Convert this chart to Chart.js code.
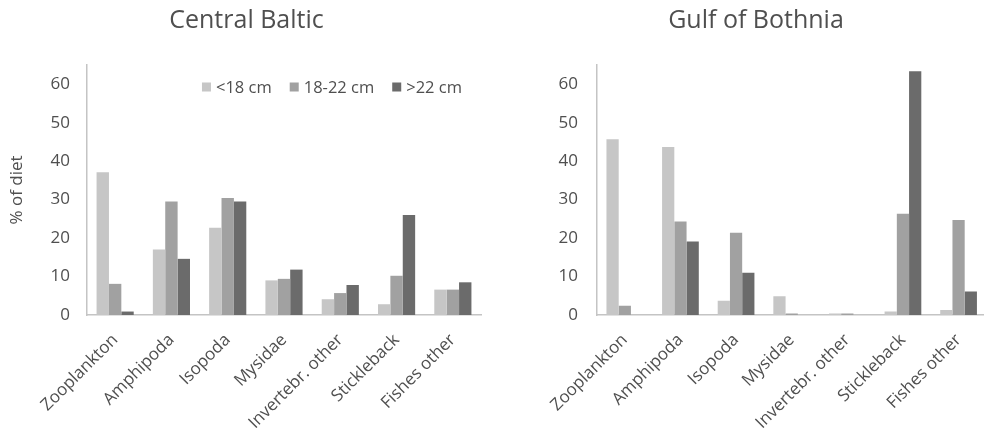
<!DOCTYPE html>
<html>
<head>
<meta charset="utf-8">
<script src="https://cdn.jsdelivr.net/npm/chart.js@4.4.1/dist/chart.umd.min.js"></script>
<style>
html, body { margin: 0; padding: 0; background: #fff; overflow: hidden; width: 984px; height: 429px; }
canvas { position: absolute; top: 0; }
#baltic { left: 0; }
#bothnia { left: 530px; }
</style>
</head>
<body>
<canvas id="baltic" width="494" height="429"></canvas>
<canvas id="bothnia" width="458" height="429"></canvas>
<script>
// prey categories and size classes
const categories = ['Zooplankton', 'Amphipoda', 'Isopoda', 'Mysidae', 'Invertebr. other', 'Stickleback', 'Fishes other'];
const sizeClasses = ['<18 cm', '18-22 cm', '>22 cm'];
const yTicks = [0, 10, 20, 30, 40, 50, 60];

// Central Baltic, % of diet
const balticSmall = [37.1, 17.0, 22.7, 9.0, 4.1, 2.8, 6.6];
const balticMedium = [8.1, 29.5, 30.4, 9.4, 5.7, 10.2, 6.6];
const balticLarge = [0.9, 14.6, 29.5, 11.8, 7.8, 26.0, 8.5];

// Gulf of Bothnia, % of diet
const bothniaSmall = [45.7, 43.7, 3.7, 4.9, 0.4, 0.9, 1.3];
const bothniaMedium = [2.4, 24.3, 21.4, 0.4, 0.4, 26.3, 24.7];
const bothniaLarge = [0, 19.1, 11.0, 0, 0, 63.4, 6.1];

const barColors = ['#c6c6c6', '#a1a1a1', '#6b6b6b'];
const textColor = '#4f4f4f';
const axisColor = '#c4c4c4';
const fontFamily = '"Open Sans", "Noto Sans", sans-serif';

// legend drawn inside the plot area, top right
const insideLegend = {
	id: 'insideLegend',
	afterDatasetsDraw(chart, args, opts){
		if(!opts.display){
			return;
		}
		const ctx = chart.ctx;
		const area = chart.chartArea;
		ctx.save();
		ctx.font = opts.size + 'px ' + fontFamily;
		ctx.textBaseline = 'middle';
		var items = chart.data.datasets.map(ds => ({
			text: ds.label,
			color: ds.backgroundColor,
			w: ctx.measureText(ds.label).width
		}));
		var total = 0;
		for(var it of items){
			total += opts.box + opts.gap + it.w;
		}
		total += opts.itemGap * (items.length - 1);
		var x = area.right - opts.right - total;
		var y = area.top + opts.top;
		for(var it of items){
			ctx.fillStyle = it.color;
			ctx.fillRect(x, y - opts.box / 2, opts.box, opts.box);
			x += opts.box + opts.gap;
			ctx.fillStyle = textColor;
			ctx.fillText(it.text, x, y + 1);
			x += it.w + opts.itemGap;
		}
		ctx.restore();
	}
};

// nudge the title sideways after layout
const titleShift = {
	id: 'titleShift',
	afterLayout(chart, args, opts){
		if(chart.titleBlock){
			chart.titleBlock.left += opts.dx;
			chart.titleBlock.right += opts.dx;
		}
	}
};

function makeDatasets(small, medium, large){
	return [small, medium, large].map((vals, i) => ({
		label: sizeClasses[i],
		data: vals,
		backgroundColor: barColors[i],
		borderWidth: 0,
		categoryPercentage: 0.66,
		barPercentage: 1.0
	}));
}

function makeChart(id, title, datasets, opts){
	return new Chart(document.getElementById(id), {
		type: 'bar',
		data: {labels: categories, datasets: datasets},
		plugins: [insideLegend, titleShift],
		options: {
			responsive: false,
			animation: false,
			layout: {padding: {left: 0, right: opts.padRight, top: 0, bottom: 0}},
			plugins: {
				legend: {display: false},
				tooltip: {enabled: false},
				title: {
					display: true,
					text: title,
					color: textColor,
					font: {family: fontFamily, size: 25, weight: 'normal'},
					padding: {top: 6, bottom: 29}
				},
				titleShift: {dx: opts.titleDx},
				insideLegend: {display: opts.legend, size: 16.5, box: 9, gap: 5, itemGap: 18, right: 19, top: 22}
			},
			scales: {
				x: {
					grid: {display: false, drawTicks: false},
					border: {display: true, color: axisColor, width: 1.5},
					ticks: {
						color: textColor,
						font: {family: fontFamily, size: 17},
						minRotation: 45,
						maxRotation: 45,
						autoSkip: false,
						padding: 15
					},
					afterFit(scale){ scale.height = 114; }
				},
				y: {
					min: 0,
					max: 65,
					grid: {display: false, drawTicks: false},
					border: {display: true, color: axisColor, width: 1.5},
					ticks: {
						color: textColor,
						font: {family: fontFamily, size: 17},
						padding: opts.tickPad
					},
					title: {
						display: opts.yTitle,
						text: '% of diet',
						color: textColor,
						font: {family: fontFamily, size: 17},
						padding: {top: 7, bottom: 0}
					},
					afterBuildTicks(scale){ scale.ticks = yTicks.map(v => ({value: v})); },
					afterFit(scale){ scale.width = opts.yWidth; }
				}
			}
		}
	});
}

makeChart('baltic', 'Central Baltic', makeDatasets(balticSmall, balticMedium, balticLarge),
	{padRight: 13, legend: true, yTitle: true, tickPad: 17, yWidth: 87, titleDx: 6});
makeChart('bothnia', 'Gulf of Bothnia', makeDatasets(bothniaSmall, bothniaMedium, bothniaLarge),
	{padRight: 0, legend: false, yTitle: false, tickPad: 19, yWidth: 67, titleDx: -3});
</script>
</body>
</html>
